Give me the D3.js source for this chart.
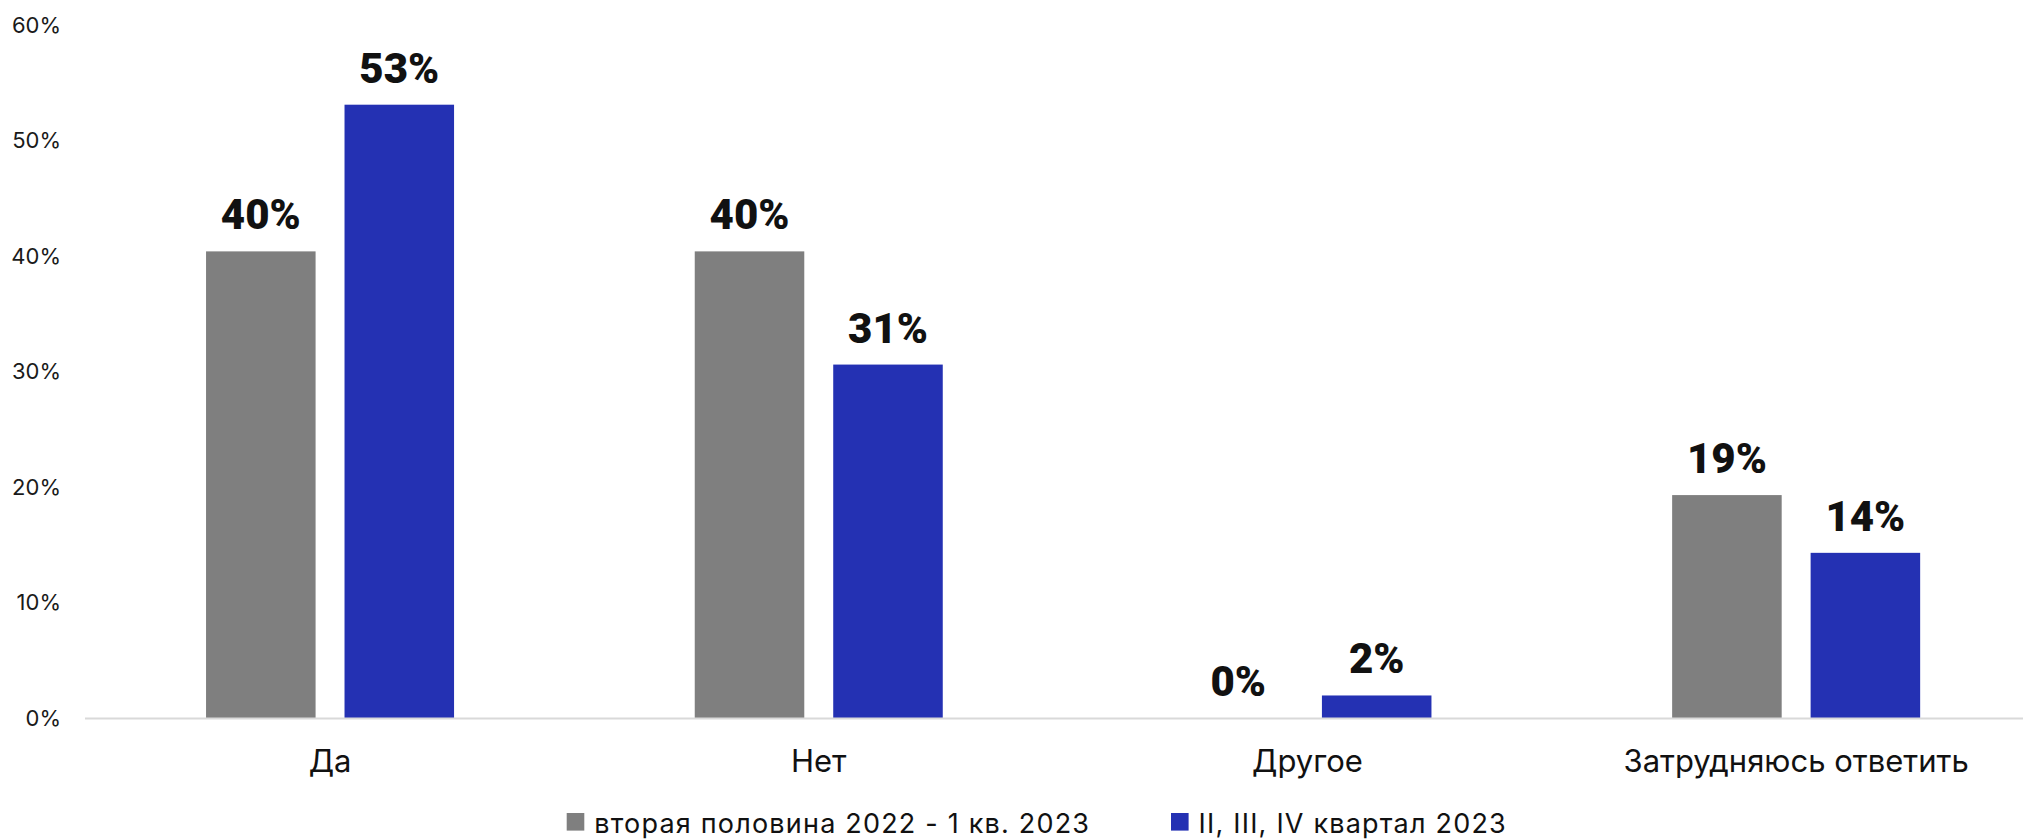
<!DOCTYPE html>
<html>
<head>
<meta charset="utf-8">
<script src="https://cdn.jsdelivr.net/npm/d3@7"></script>
<style>
  html, body { margin: 0; padding: 0; background: #fff; overflow: hidden; }
  svg { display: block; }
</style>
</head>
<body>
<svg id="chart" width="2023" height="839"></svg>
<script>
const categories = ["Да", "Нет", "Другое", "Затрудняюсь ответить"];
const seriesNames = ["вторая половина 2022 - 1 кв. 2023", "II, III, IV квартал 2023"];
const seriesFirst = [40.4, 40.4, 0, 19.3];
const seriesSecond = [53.1, 30.6, 1.95, 14.3];
const seriesColors = ["#7f7f7f", "#2431b3"];
const yTicks = [0, 10, 20, 30, 40, 50, 60];

const svg = d3.select("#chart");
const font = "Inter, 'Noto Sans', sans-serif";

const x0 = d3.scaleBand().domain(categories).range([85.7, 2040.5])
  .paddingInner(0.4925).paddingOuter(0.24625);
const x1 = d3.scaleBand().domain(seriesNames).range([0, x0.bandwidth()])
  .paddingInner(0.209).paddingOuter(0);
const y = d3.scaleLinear().domain([0, 60]).range([718, 25]);
const color = d3.scaleOrdinal().domain(seriesNames).range(seriesColors);

const data = categories.map((c, i) => ({
  cat: c,
  vals: [
    { s: seriesNames[0], v: seriesFirst[i] },
    { s: seriesNames[1], v: seriesSecond[i] }
  ]
}));

// Y axis labels
const yAxis = d3.axisLeft(y).tickValues(yTicks).tickFormat(d => d + "%").tickSize(0).tickPadding(0);
const yg = svg.append("g").attr("transform", "translate(61,0)").call(yAxis);
yg.select(".domain").remove();
yg.selectAll("text").attr("font-family", font).attr("font-size", 22).attr("fill", "#1a1a1a");

// Bars
const groups = svg.append("g").selectAll("g").data(data).join("g")
  .attr("transform", d => `translate(${x0(d.cat)},0)`);

groups.selectAll("rect").data(d => d.vals).join("rect")
  .attr("x", d => x1(d.s))
  .attr("width", x1.bandwidth())
  .attr("y", d => y(d.v))
  .attr("height", d => y(0) - y(d.v))
  .attr("fill", d => color(d.s));

groups.selectAll("text.val").data(d => d.vals).join("text")
  .attr("class", "val")
  .attr("x", d => x1(d.s) + x1.bandwidth() / 2)
  .attr("y", d => y(d.v) - 22)
  .attr("text-anchor", "middle")
  .attr("font-family", "Roboto, Inter, sans-serif")
  .attr("font-weight", 900)
  .attr("font-size", 42)
  .attr("fill", "#111")
  .text(d => d3.format(".0f")(d.v) + "%");

// X axis
const xAxis = d3.axisBottom(x0).tickSize(0).tickPadding(0);
const xg = svg.append("g").attr("transform", `translate(0,${y(0)})`).call(xAxis);
xg.select(".domain").attr("d", `M85,0.5H2023`).attr("stroke", "#d9d9d9").attr("stroke-width", 2);
xg.selectAll("text").attr("font-family", font).attr("font-size", 31).attr("fill", "#111")
  .attr("dy", null).attr("y", 54);

// Legend
const legendX = [566.7, 1171];
const lg = svg.append("g").selectAll("g").data(seriesNames).join("g")
  .attr("transform", (d, i) => `translate(${legendX[i]},813)`);
lg.append("rect").attr("width", 17.6).attr("height", 17.6).attr("fill", d => color(d));
lg.append("text").attr("x", 27.6).attr("y", 19.5)
  .attr("font-family", font).attr("font-size", 27).attr("letter-spacing", 1.2).attr("fill", "#111")
  .text(d => d);
</script>
</body>
</html>
